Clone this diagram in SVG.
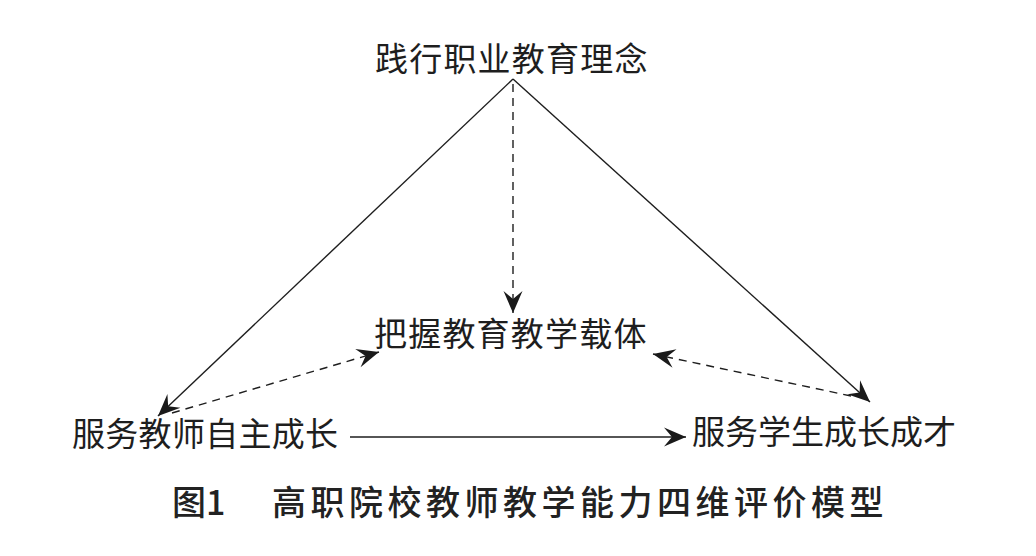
<svg xmlns="http://www.w3.org/2000/svg" width="1036" height="556" viewBox="0 0 1036 556">
<defs>
<style>
.node{font-family:"Liberation Serif","Noto Sans CJK SC",serif;font-size:33px;fill:#1e1e1e;dominant-baseline:central;letter-spacing:1.2px}
.cap{font-family:"Noto Sans CJK SC",sans-serif;font-size:34px;font-weight:500;fill:#222;dominant-baseline:central}
.solid{stroke:#1e1e1e;stroke-width:1.4;fill:none}
.dash{stroke:#1e1e1e;stroke-width:1.4;fill:none;stroke-dasharray:8 6}
</style>
<marker id="ah" markerUnits="userSpaceOnUse" markerWidth="26" markerHeight="22" viewBox="-23 -11 26 22" refX="0" refY="0" orient="auto">
<path d="M0,0 L-22,-9.5 L-14,0 L-22,9.5 Z" fill="#1a1a1a"/>
</marker>
</defs>
<rect width="1036" height="556" fill="#ffffff"/>
<g id="connectors">
<line class="solid" x1="513" y1="79" x2="158" y2="416" marker-end="url(#ah)"/>
<line class="solid" x1="513" y1="79" x2="870" y2="402" marker-end="url(#ah)"/>
<line class="dash" x1="513" y1="84" x2="513" y2="313" marker-end="url(#ah)"/>
<line class="dash" x1="172" y1="413" x2="379" y2="352" marker-end="url(#ah)"/>
<line class="dash" x1="851" y1="396" x2="653" y2="354" marker-end="url(#ah)"/>
<line class="solid" x1="350" y1="437" x2="686" y2="437" marker-end="url(#ah)"/>
</g>
<g id="node-top"><text class="node" x="375" y="60">践行职业教育理念</text></g>
<g id="node-middle"><text class="node" x="374" y="335">把握教育教学载体</text></g>
<g id="node-left"><text class="node" x="72" y="435" style="letter-spacing:0.3px">服务教师自主成长</text></g>
<g id="node-right"><text class="node" x="692" y="433" style="letter-spacing:0px">服务学生成长成才</text></g>
<g id="caption">
<text class="cap" x="172" y="500">图1</text>
<text class="cap" x="272" y="500" style="letter-spacing:4.5px">高职院校教师教学能力四维评价模型</text>
</g>
</svg>
